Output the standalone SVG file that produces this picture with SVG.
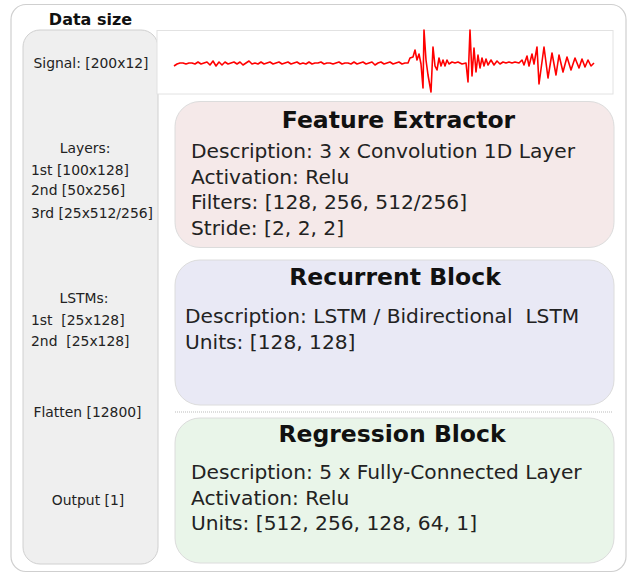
<svg xmlns="http://www.w3.org/2000/svg" width="631" height="573" viewBox="0 0 631 573">
<style>
.lbl{font-family:"DejaVu Sans",sans-serif;font-size:13.9px;fill:#222}
.ttl{font-family:"DejaVu Sans",sans-serif;font-weight:bold;font-size:23.5px;fill:#111;text-anchor:middle}
.body{font-family:"DejaVu Sans",sans-serif;font-size:20.2px;fill:#222}
.blk{stroke:#dcdcdc;stroke-width:1}
</style>
<rect x="0" y="0" width="631" height="573" fill="#fff"/>
<g id="frame">
<rect x="11" y="4.5" width="615" height="567" rx="15" fill="#fff" stroke="#cfcfcf" stroke-width="1.2"/>
</g>
<g id="datasize">
<text x="90.5" y="25" style="font-family:'DejaVu Sans',sans-serif;font-weight:bold;font-size:16px;fill:#111;text-anchor:middle">Data size</text>
<rect x="23" y="30" width="135" height="534" rx="17" fill="#efefef" stroke="#d0d0d0"/>
<text class="lbl" x="91" y="68" text-anchor="middle">Signal: [200x12]</text>
<text class="lbl" x="85" y="153" text-anchor="middle">Layers:</text>
<text class="lbl" x="31" y="175">1st [100x128]</text>
<text class="lbl" x="31" y="195">2nd [50x256]</text>
<text class="lbl" x="31" y="218">3rd [25x512/256]</text>
<text class="lbl" x="84" y="303" text-anchor="middle">LSTMs:</text>
<text class="lbl" x="31" y="325" xml:space="preserve">1st  [25x128]</text>
<text class="lbl" x="31" y="346" xml:space="preserve">2nd  [25x128]</text>
<text class="lbl" x="87.5" y="417" text-anchor="middle">Flatten [12800]</text>
<text class="lbl" x="88" y="505" text-anchor="middle">Output [1]</text>
</g>
<g id="signal">
<rect x="157" y="30.5" width="456" height="63.5" fill="#fff" stroke="#e2e2e2"/>
<polyline fill="none" stroke="#ff0000" stroke-width="1.6" stroke-linejoin="round" points="174,66 177,64 180,63 183,63 186,64 189,63 192,63 195,64 198,62 201,64 204,63 207,62 210,65 213,61 216,66 219,62 222,65 225,62 228,64 231,63 234,62 237,64 240,62 243,65 246,63 249,61 252,64 255,63 258,64 261,62 264,64 267,63 270,62 273,64 276,63 279,62 282,64 285,63 288,62 291,64 294,63 297,62 300,64 303,63 306,64 309,62 312,64 315,63 318,63 321,62 324,64 327,63 330,63 333,64 336,63 339,62 342,64 345,63 348,63 351,64 354,62 357,64 360,63 363,62 366,64 369,63 372,62 375,65 378,63 381,62 384,64 387,63 390,62 393,64 396,63 399,62 402,64 405,63 408,63 410,58 413,57 415,50 417,60 419,54 421,64 423,88 424,30 426,60 428,75 431,92 433,47 435,66 437,70 439,58 441,66 443,60 445,66 447,60 449,64 452,62 455,63 458,62 462,64 466,63 468,82 470,30 472,76 474,48 476,72 478,55 480,68 482,58 484,66 486,59 488,65 491,60 494,65 497,61 500,64 503,62 506,63 509,62 512,63 515,62 519,63 522,60 524,65 527,56 529,66 532,54 534,64 537,47 539,84 544,47 548,78 552,53 556,75 559,55 563,72 567,57 571,70 575,58 579,68 582,59 585,67 588,60 591,66 594,63"/>
</g>
<g id="feature-extractor">
<rect class="blk" x="175" y="101.5" width="439" height="146" rx="25" fill="#f5e9e9"/>
<text class="ttl" x="398.5" y="128">Feature Extractor</text>
<text class="body" x="191" y="158">Description: 3 x Convolution 1D Layer</text>
<text class="body" x="191" y="183.5">Activation: Relu</text>
<text class="body" x="191" y="209">Filters: [128, 256, 512/256]</text>
<text class="body" x="191" y="234.5">Stride: [2, 2, 2]</text>
</g>
<g id="recurrent-block">
<rect class="blk" x="175" y="260" width="439" height="145" rx="25" fill="#e9e9f5"/>
<text class="ttl" x="395" y="285">Recurrent Block</text>
<text class="body" x="185" y="323" xml:space="preserve">Description: LSTM / Bidirectional  LSTM</text>
<text class="body" x="185" y="349">Units: [128, 128]</text>
</g>
<g id="connectors">
<line x1="175" y1="412" x2="613" y2="412" stroke="#bbb" stroke-width="1" stroke-dasharray="1,1"/>
</g>
<g id="regression-block">
<rect class="blk" x="175" y="418" width="439" height="145" rx="25" fill="#e9f5e9"/>
<text class="ttl" x="392" y="442">Regression Block</text>
<text class="body" x="191" y="479">Description: 5 x Fully-Connected Layer</text>
<text class="body" x="191" y="505">Activation: Relu</text>
<text class="body" x="191" y="530">Units: [512, 256, 128, 64, 1]</text>
</g>
</svg>
